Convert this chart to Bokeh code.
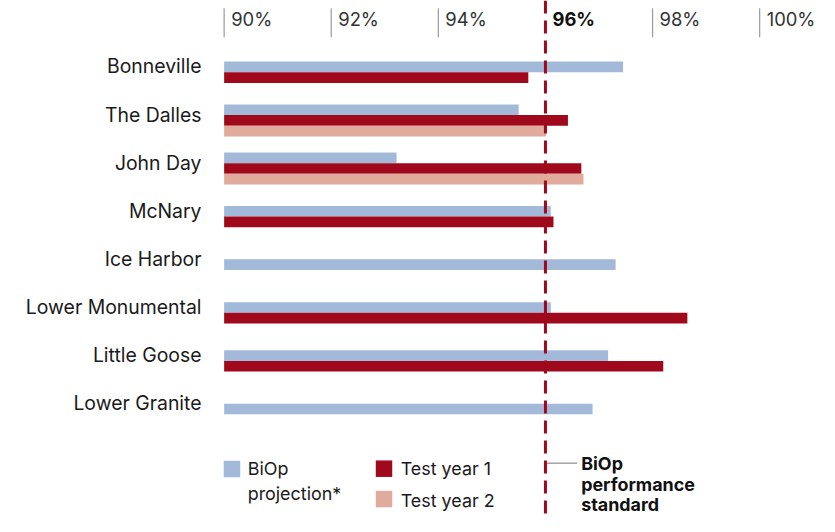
from bokeh.plotting import figure
from bokeh.models import Range1d, FixedTicker, Span, ColumnDataSource
from bokeh.core.properties import value
from bokeh.embed import file_html
from bokeh.resources import INLINE

# ---------------- data ----------------
categories = ["Bonneville", "The Dalles", "John Day", "McNary", "Ice Harbor",
              "Lower Monumental", "Little Goose", "Lower Granite"]
biop_projection = [97.45, 95.50, 93.22, 96.10, 97.31, 96.10, 97.17, 96.88]
test_year_1 = [95.68, 96.42, 96.67, 96.15, None, 98.65, 98.20, None]
test_year_2 = [None, 96.01, 96.71, None, None, None, None, None]
series_labels = ["BiOp projection*", "Test year 1", "Test year 2"]
colors = ["#a3b9d9", "#a0091c", "#e0aa9c"]
x_ticks = [90, 92, 94, 96, 98, 100]
x_tick_labels = ["90%", "92%", "94%", "96%", "98%", "100%"]
standard = 96
baseline = 90

FONT = "Inter"

# ---------------- layout (design space 835 x 532, scaled to fit) ----------------
W, H = 819, 516
DW, DH = 835.0, 532.0
SX, SY = W / DW, H / DH
ROW = 49.6          # design px per category
FIRST = 68.0        # design px of first category centre
PX = 54.6           # design px per percentage point
X90 = 228.0         # design px of 90%
FRAME_LEFT = 214    # figure px

x_start = baseline + (FRAME_LEFT / SX - X90) / PX
x_end = baseline + (DW - X90) / PX
y_top = -FIRST / ROW
y_bot = (DH - FIRST) / ROW


def fx(px):  # design px -> data x
    return baseline + (px - X90) / PX


def fy(py):  # design px -> data y
    return (py - FIRST) / ROW


def fs(sz):  # design font size -> css
    return "%.1fpx" % (sz * SY)


p = figure(width=W, height=H, output_backend="svg", toolbar_location=None,
           x_range=Range1d(x_start, x_end), y_range=Range1d(y_bot, y_top),
           x_axis_location=None, min_border_left=FRAME_LEFT, min_border_right=0,
           min_border_top=0, min_border_bottom=0)
p.outline_line_color = None
p.grid.grid_line_color = None
p.background_fill_color = "white"

# y axis with category names
ax = p.yaxis[0]
ax.ticker = FixedTicker(ticks=list(range(len(categories))))
ax.major_label_overrides = {i: c for i, c in enumerate(categories)}
ax.axis_line_color = None
ax.major_tick_line_color = None
ax.minor_tick_line_color = None
ax.major_label_text_font = FONT
ax.major_label_text_font_size = fs(20)
ax.major_label_text_color = "#1a1a1a"
ax.major_label_standoff = 7

# ---------------- bars ----------------
bar_h = 11 / ROW
shift = 6 / ROW
all_series = [biop_projection, test_year_1, test_year_2]
sources = [dict(y=[], left=[], right=[]) for _ in all_series]
for i in range(len(categories)):
    present = [s for s in range(len(all_series)) if all_series[s][i] is not None]
    n = len(present)
    for k, s in enumerate(present):
        sources[s]["y"].append(i + shift + (k - (n - 1) / 2) * bar_h)
        sources[s]["left"].append(baseline)
        sources[s]["right"].append(all_series[s][i])

for s, src in enumerate(sources):
    p.hbar(y="y", left="left", right="right", height=bar_h,
           source=ColumnDataSource(src), fill_color=colors[s],
           line_color=None)

# ---------------- top ticks & labels ----------------
tick_x = [t for t in x_ticks if t != standard]
p.segment(x0=tick_x, x1=tick_x, y0=[fy(8)] * len(tick_x), y1=[fy(38)] * len(tick_x),
          line_color="#9a9a9a", line_width=1.2)
norm_lbl = [l for t, l in zip(x_ticks, x_tick_labels) if t != standard]
p.text(x=tick_x, y=[fy(19.5)] * len(tick_x), text=norm_lbl, x_offset=7,
       text_font=value(FONT), text_font_size=fs(19), text_color="#333333",
       text_baseline="middle", text_align="left")
p.text(x=[standard], y=[fy(19.5)], text=[x_tick_labels[x_ticks.index(standard)]],
       x_offset=7, text_font=value(FONT), text_font_size=fs(19),
       text_color="#111111", text_font_style="bold", text_baseline="middle",
       text_align="left")

# ---------------- standard line ----------------
p.add_layout(Span(location=standard, dimension="height", line_color="#a0091c",
                  line_width=3, line_dash="13 7"))

# ---------------- legend ----------------
sq_x = [fx(236), fx(391), fx(391)]
sq_y = [fy(483), fy(482.7), fy(514)]
p.scatter(x=sq_x, y=sq_y, marker="square", size=17 * SY, fill_color=colors,
          line_color=None)
leg_txt_x = [fx(252), fx(252), fx(408), fx(408)]
leg_txt_y = [fy(483), fy(508), fy(483), fy(515)]
leg_txt = ["BiOp", "projection*", series_labels[1], series_labels[2]]
p.text(x=leg_txt_x, y=leg_txt_y, text=leg_txt, text_font=value(FONT),
       text_font_size=fs(18.5), text_color="#1a1a1a", text_baseline="middle",
       text_align="left")

# ---------------- annotation ----------------
p.segment(x0=[standard], x1=[fx(588)], y0=[fy(477)], y1=[fy(477)],
          line_color="#777777", line_width=1)
p.text(x=[fx(592)] * 3, y=[fy(477), fy(499), fy(520)],
       text=["BiOp", "performance", "standard"], text_font=value(FONT),
       text_font_size=fs(18.5), text_font_style="bold", text_color="#111111",
       text_baseline="middle", text_align="left")

open("out.html", "w").write(file_html(p, INLINE))
